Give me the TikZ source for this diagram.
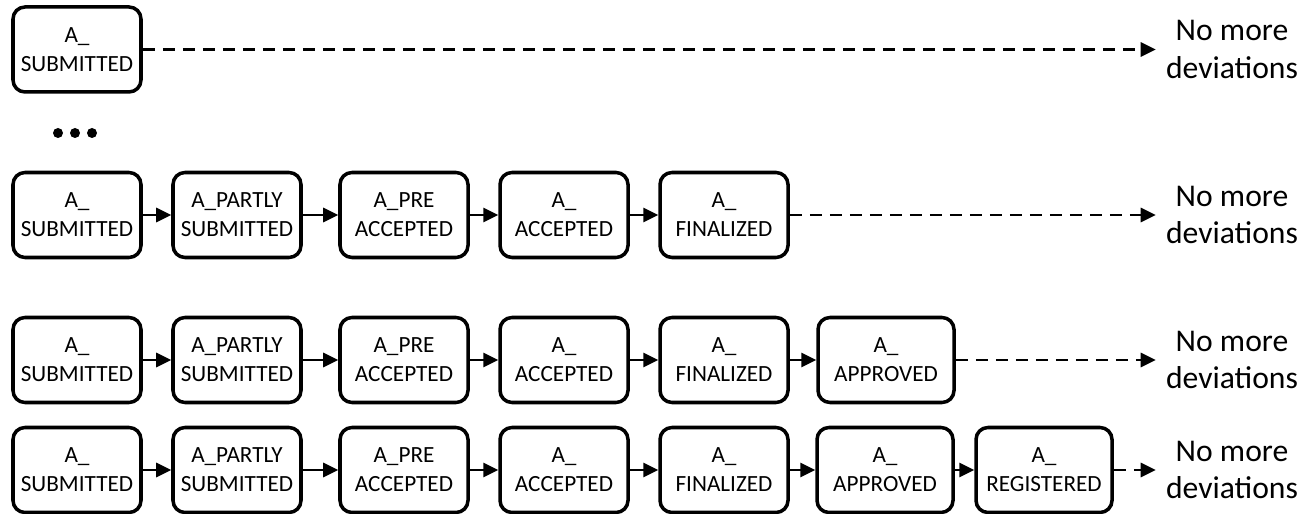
\documentclass[tikz,border=0pt]{standalone}
\usepackage{fontspec}
\setmainfont{Carlito}
\usetikzlibrary{arrows.meta}
\tikzstyle{act}=[rectangle,rounded corners=0.24cm,draw=black,line width=2pt,minimum width=2.56cm,minimum height=1.7cm,inner sep=1pt,align=center,font=\fontsize{13.2}{16.5}\selectfont]
\tikzstyle{fin}=[align=center,inner sep=0.2cm,font=\fontsize{18}{21.5}\selectfont]
\tikzstyle{nxt}=[line width=1.6pt,-{Triangle[length=0.3cm,width=0.28cm]}]
\tikzstyle{nomore}=[nxt,dash pattern=on 0.24cm off 0.16cm]

\begin{document}
\begin{tikzpicture}
\useasboundingbox (0,0) rectangle (26.16,10.28);
% first row
\node[act] (a1) at (1.54,9.29) {A\_\\SUBMITTED};
\node[fin] (ta) at (24.64,9.29) {No more\\deviations};
\fill (1.16,7.62) circle (0.1); \fill (1.50,7.62) circle (0.1); \fill (1.84,7.62) circle (0.1);
% second row
\node[act] (b1) at (1.54,5.98) {A\_\\SUBMITTED};
\node[act] (b2) at (4.74,5.98) {A\_PARTLY\\SUBMITTED};
\node[act] (b3) at (8.08,5.98) {A\_PRE\\ACCEPTED};
\node[act] (b4) at (11.28,5.98) {A\_\\ACCEPTED};
\node[act] (b5) at (14.48,5.98) {A\_\\FINALIZED};
\node[fin] (tb) at (24.64,5.98) {No more\\deviations};
% third row
\node[act] (c1) at (1.54,3.08) {A\_\\SUBMITTED};
\node[act] (c2) at (4.74,3.08) {A\_PARTLY\\SUBMITTED};
\node[act] (c3) at (8.08,3.08) {A\_PRE\\ACCEPTED};
\node[act] (c4) at (11.28,3.08) {A\_\\ACCEPTED};
\node[act] (c5) at (14.48,3.08) {A\_\\FINALIZED};
\node[act,minimum width=2.72cm] (c6) at (17.72,3.08) {A\_\\APPROVED};
\node[fin] (tc) at (24.64,3.08) {No more\\deviations};
% fourth row
\node[act] (d1) at (1.54,0.88) {A\_\\SUBMITTED};
\node[act] (d2) at (4.74,0.88) {A\_PARTLY\\SUBMITTED};
\node[act] (d3) at (8.08,0.88) {A\_PRE\\ACCEPTED};
\node[act] (d4) at (11.28,0.88) {A\_\\ACCEPTED};
\node[act] (d5) at (14.48,0.88) {A\_\\FINALIZED};
\node[act,minimum width=2.72cm] (d6) at (17.70,0.88) {A\_\\APPROVED};
\node[act,minimum width=2.72cm] (d7) at (20.88,0.88) {A\_\\REGISTERED};
\node[fin] (td) at (24.64,0.88) {No more\\deviations};
% arrows
\draw[nomore] (a1) -- (ta);
\draw[nxt] (b1) -- (b2); \draw[nxt] (b2) -- (b3); \draw[nxt] (b3) -- (b4); \draw[nxt] (b4) -- (b5);
\draw[nomore] (b5) -- (tb);
\draw[nxt] (c1) -- (c2); \draw[nxt] (c2) -- (c3); \draw[nxt] (c3) -- (c4); \draw[nxt] (c4) -- (c5); \draw[nxt] (c5) -- (c6);
\draw[nomore] (c6) -- (tc);
\draw[nxt] (d1) -- (d2); \draw[nxt] (d2) -- (d3); \draw[nxt] (d3) -- (d4); \draw[nxt] (d4) -- (d5); \draw[nxt] (d5) -- (d6); \draw[nxt] (d6) -- (d7);
\draw[nomore] (d7) -- (td);
\end{tikzpicture}
\end{document}
